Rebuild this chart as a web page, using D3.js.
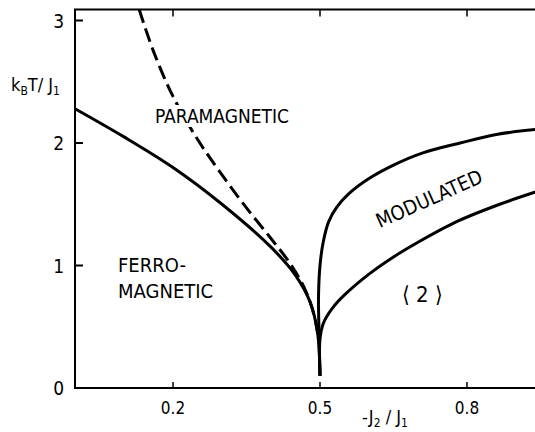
<!DOCTYPE html>
<html>
<head>
<meta charset="utf-8">
<script src="https://cdn.jsdelivr.net/npm/d3@7"></script>
<style>
  body { margin: 0; background: #fff; }
  text { font-family: "DejaVu Sans Condensed", "DejaVu Sans", sans-serif; fill: #000; }
</style>
</head>
<body>
<div id="chart"></div>
<script>
// phase boundaries, [-J2/J1, kBT/J1]
const ferroLine = [[0, 2.28], [0.1, 2.05], [0.2, 1.8], [0.3, 1.5], [0.4, 1.15],
  [0.45, 0.92], [0.48, 0.7], [0.495, 0.45], [0.5, 0.1]]
const paraLine = [[0.131, 3.09], [0.16, 2.75], [0.2, 2.38], [0.25, 2.03], [0.3, 1.74],
  [0.35, 1.47], [0.4, 1.22], [0.44, 1.01], [0.47, 0.8], [0.489, 0.58], [0.497, 0.4]]
const modUpper = [[0.5, 0.1], [0.498, 0.45], [0.497, 0.75], [0.5, 1.0], [0.507, 1.2],
  [0.518, 1.36], [0.535, 1.48], [0.56, 1.59], [0.6, 1.71], [0.65, 1.82], [0.71, 1.92],
  [0.786, 2.0], [0.86, 2.07], [0.94, 2.11]]
const modLower = [[0.5, 0.1], [0.5, 0.4], [0.507, 0.53], [0.525, 0.65], [0.55, 0.76],
  [0.6, 0.93], [0.65, 1.07], [0.7, 1.19], [0.78, 1.36], [0.86, 1.49], [0.94, 1.6]]
const xTicks = [0.2, 0.5, 0.8]
const yTicks = [0, 1, 2, 3]

const W = 535, H = 432
const svg = d3.select("#chart").append("svg")
  .attr("width", W).attr("height", H)

const x = d3.scaleLinear().domain([0, 1]).range([75, 565])
const y = d3.scaleLinear().domain([0, 3]).range([388, 20.5])
const yTop = y(3.09)

// frame: left, bottom, top
svg.append("path")
  .attr("d", `M${W},${yTop}H${x(0)}V${y(0)}H${W}`)
  .attr("fill", "none").attr("stroke", "#000").attr("stroke-width", 2)

// ticks pointing inward
svg.append("g").selectAll("line").data(yTicks.filter(d => d > 0)).join("line")
  .attr("x1", x(0)).attr("x2", x(0) + 8)
  .attr("y1", d => y(d)).attr("y2", d => y(d))
  .attr("stroke", "#000").attr("stroke-width", 2)
svg.append("g").selectAll("line").data(xTicks).join("line")
  .attr("x1", d => x(d)).attr("x2", d => x(d))
  .attr("y1", y(0)).attr("y2", y(0) - 6)
  .attr("stroke", "#000").attr("stroke-width", 1.5)
svg.append("g").selectAll("line").data(xTicks).join("line")
  .attr("x1", d => x(d)).attr("x2", d => x(d))
  .attr("y1", yTop).attr("y2", yTop + 7)
  .attr("stroke", "#000").attr("stroke-width", 1.5)

// tick labels
svg.append("g").selectAll("text").data(yTicks).join("text")
  .attr("x", 64).attr("y", d => y(d) + 7)
  .attr("text-anchor", "end").attr("font-size", 19)
  .text(d => d)
svg.append("g").selectAll("text").data(xTicks).join("text")
  .attr("x", d => x(d)).attr("y", 414)
  .attr("text-anchor", "middle").attr("font-size", 17)
  .text(d => d3.format(".1f")(d))

// axis titles
const yl = svg.append("text").attr("x", 11).attr("y", 91).attr("font-size", 18)
yl.append("tspan").text("k")
yl.append("tspan").attr("font-size", 12).attr("dy", 4).text("B")
yl.append("tspan").attr("dy", -4).text("T/ J")
yl.append("tspan").attr("font-size", 12).attr("dy", 4).text("1")

const xl = svg.append("text").attr("x", 362).attr("y", 423).attr("font-size", 18)
xl.append("tspan").text("-J")
xl.append("tspan").attr("font-size", 12).attr("dy", 4).text("2")
xl.append("tspan").attr("dy", -4).text(" / J")
xl.append("tspan").attr("font-size", 12).attr("dy", 4).text("1")

// boundaries
const line = d3.line()
  .x(d => x(d[0])).y(d => y(d[1]))
  .curve(d3.curveCatmullRom.alpha(0.5))

svg.append("path").datum(paraLine).attr("d", line)
  .attr("fill", "none").attr("stroke", "#000").attr("stroke-width", 3)
  .attr("stroke-dasharray", "14 6")
for (const d of [ferroLine, modUpper, modLower]) {
  svg.append("path").datum(d).attr("d", line)
    .attr("fill", "none").attr("stroke", "#000").attr("stroke-width", 3)
}

// phase labels (white halo breaks the dashed line like in the print)
const lab = (tx, ty, t, fs) => svg.append("text")
  .attr("x", tx).attr("y", ty).attr("font-size", fs || 20)
  .attr("stroke", "#fff").attr("stroke-width", 8).attr("paint-order", "stroke")
  .text(t)
lab(155, 123, "PARAMAGNETIC", 19)
lab(118, 272, "FERRO-")
lab(118, 298, "MAGNETIC")
lab(402, 302, "\u27E8 2 \u27E9", 22)
svg.append("text")
  .attr("transform", "translate(432,205) rotate(-24)")
  .attr("text-anchor", "middle").attr("font-size", 20)
  .text("MODULATED")
</script>
</body>
</html>
